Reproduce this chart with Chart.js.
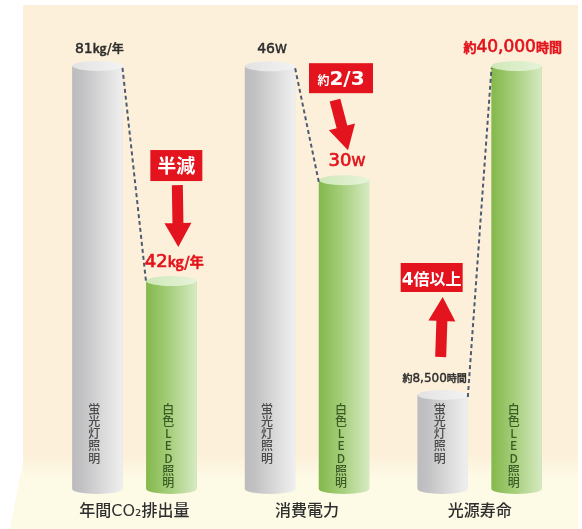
<!DOCTYPE html>
<html lang="ja">
<head>
<meta charset="UTF-8">
<title>蛍光灯照明と白色LED照明の比較</title>
<script src="https://cdn.jsdelivr.net/npm/chart.js@4.4.1/dist/chart.umd.min.js"></script>
<style>
  html, body { margin: 0; padding: 0; background: #fff; }
  #wrap { width: 582px; height: 529px; }
</style>
</head>
<body>
<div id="wrap"><canvas id="cmp"></canvas></div>
<script>
// data
const groups = ['年間CO₂排出量', '消費電力', '光源寿命'];
const fluorescent = [81, 46, 8500];
const led = [42, 30, 40000];
const units = ['kg/年', 'W', '時間'];
const prefixes = ['', '', '約'];
const badges = ['半減', '約2/3', '4倍以上'];
const lampNames = ['蛍光灯照明', '白色LED照明'];

// the picture is not drawn to scale, each group gets its own axis range
const axisMin = [4.3, -13.4, -500];
const axisMax = [85.7, 49.7, 42490];

const JP = '"Noto Sans CJK JP", "Noto Sans", sans-serif';
const NUM = '"DejaVu Sans", "Noto Sans CJK JP", sans-serif';
const RED = '#e3141d';

// badge / arrow placement, relative to the shorter bar of the group
const badgeStyle = [
  { dx: 5,   top: -131, w: 52, h: 31, tail: [6, -96],  tip: [7, -34] },
  { dx: -3,  top: -117, w: 64, h: 30, tail: [-9, -80], tip: [4, -30] },
  { dx: -11, top: -132, w: 62, h: 29, tail: [-2, -38], tip: [0, -98] }
];

const datasets = [];
groups.forEach((g, i) => {
  [fluorescent, led].forEach((series, k) => {
    datasets.push({
      label: lampNames[k],
      data: groups.map((_, j) => j === i ? series[i] : null),
      yAxisID: 'y' + i,
      base: axisMin[i],
      skipNull: true,
      backgroundColor: k === 0 ? '#d6d6d6' : '#a9d07f',
      borderWidth: 0,
      categoryPercentage: 0.857,
      barPercentage: 0.68,
      lamp: k,
      group: i
    });
  });
});

const scales = {
  x: {
    grid: { display: false, drawTicks: false },
    border: { display: false },
    ticks: { color: '#2e2e2e', padding: 13, font: { family: NUM, size: 16, weight: '500' } },
    afterFit: s => { s.height = 40; }
  }
};
groups.forEach((g, i) => {
  scales['y' + i] = { display: false, min: axisMin[i], max: axisMax[i] };
});

// parts: [text, size, family]
function drawParts(ctx, parts, x, y, align, color, weight, thicken) {
  ctx.fillStyle = color;
  ctx.strokeStyle = color;
  ctx.lineWidth = thicken || 0;
  ctx.textBaseline = 'alphabetic';
  ctx.textAlign = 'left';
  const fontOf = p => (weight || 500) + ' ' + p[1] + 'px ' + (p[2] || JP);
  let total = 0;
  const widths = parts.map(p => {
    ctx.font = fontOf(p);
    const w = ctx.measureText(p[0]).width;
    total += w;
    return w;
  });
  let cx = align === 'right' ? x - total : align === 'left' ? x : x - total / 2;
  parts.forEach((p, n) => {
    ctx.font = fontOf(p);
    ctx.fillText(p[0], cx, y);
    if (thicken) ctx.strokeText(p[0], cx, y);
    cx += widths[n];
  });
}

function drawArrow(ctx, x1, y1, x2, y2) {
  const shaftW = 11, headW = 27, headL = 24;
  const len = Math.hypot(x2 - x1, y2 - y1);
  const dx = (x2 - x1) / len, dy = (y2 - y1) / len;
  const nx = -dy, ny = dx;
  const bx = x2 - dx * headL, by = y2 - dy * headL;
  ctx.fillStyle = RED;
  ctx.beginPath();
  ctx.moveTo(x1 + nx * shaftW / 2, y1 + ny * shaftW / 2);
  ctx.lineTo(bx + nx * shaftW / 2, by + ny * shaftW / 2);
  ctx.lineTo(bx + nx * headW / 2, by + ny * headW / 2);
  ctx.lineTo(x2, y2);
  ctx.lineTo(bx - nx * headW / 2, by - ny * headW / 2);
  ctx.lineTo(bx - nx * shaftW / 2, by - ny * shaftW / 2);
  ctx.lineTo(x1 - nx * shaftW / 2, y1 - ny * shaftW / 2);
  ctx.closePath();
  ctx.fill();
}

function drawCylinder(ctx, el, lamp) {
  const left = el.x - el.width / 2, right = el.x + el.width / 2;
  const rx = el.width / 2, ry = 5;
  const body = ctx.createLinearGradient(left, 0, right, 0);
  const cap = ctx.createLinearGradient(left, 0, right, 0);
  if (lamp === 0) {
    body.addColorStop(0, '#bcbcbe');
    body.addColorStop(0.2, '#c2c2c4');
    body.addColorStop(0.75, '#e2e2e2');
    body.addColorStop(1, '#efefef');
    cap.addColorStop(0, '#e2e2e2');
    cap.addColorStop(1, '#f3f3f3');
  } else {
    body.addColorStop(0, '#84b84c');
    body.addColorStop(0.45, '#a5ce7a');
    body.addColorStop(1, '#d6eac2');
    cap.addColorStop(0, '#cfe8b8');
    cap.addColorStop(1, '#e6f3d9');
  }
  ctx.fillStyle = body;
  ctx.beginPath();
  ctx.moveTo(left, el.y);
  ctx.lineTo(left, el.base);
  ctx.ellipse(el.x, el.base, rx, ry, 0, Math.PI, 0, true);
  ctx.lineTo(right, el.y);
  ctx.closePath();
  ctx.fill();
  ctx.fillStyle = cap;
  ctx.beginPath();
  ctx.ellipse(el.x, el.y, rx, ry, 0, 0, Math.PI * 2);
  ctx.fill();
}

const backdrop = {
  id: 'backdrop',
  beforeDraw(chart) {
    const ctx = chart.ctx;
    ctx.save();
    ctx.fillStyle = '#fff';
    ctx.fillRect(0, 0, chart.width, chart.height);
    ctx.fillStyle = '#fdf0da';
    ctx.fillRect(23, 5, 555, chart.height - 5);
    const floor = ctx.createLinearGradient(0, 455, 0, 478);
    floor.addColorStop(0, 'rgba(253,250,230,0)');
    floor.addColorStop(1, 'rgba(253,250,230,1)');
    ctx.fillStyle = floor;
    ctx.beginPath();
    ctx.moveTo(24, 455);
    ctx.lineTo(578, 455);
    ctx.lineTo(578, chart.height);
    ctx.lineTo(10, chart.height);
    ctx.closePath();
    ctx.fill();
    ctx.restore();
  }
};

const cylinders = {
  id: 'cylinders',
  afterDatasetsDraw(chart) {
    const ctx = chart.ctx;
    ctx.save();
    const bars = [];
    chart.data.datasets.forEach((ds, d) => {
      const meta = chart.getDatasetMeta(d);
      const i = ds.group;
      const el = meta.data[i].getProps(['x', 'y', 'base', 'width'], true);
      bars[i] = bars[i] || [];
      bars[i][ds.lamp] = el;
      drawCylinder(ctx, el, ds.lamp);
    });

    bars.forEach((pair, i) => {
      const [fl, ld] = pair;

      // dashed guide from old lamp top to new lamp top
      ctx.strokeStyle = '#4e5c70';
      ctx.lineWidth = 2;
      ctx.setLineDash([4, 3]);
      ctx.beginPath();
      ctx.moveTo(fl.x + fl.width / 2, fl.y + 2);
      ctx.lineTo(ld.x - ld.width / 2, ld.y + 2);
      ctx.stroke();
      ctx.setLineDash([]);

      // value labels
      const small = i === 2;
      const flNum = fluorescent[i].toLocaleString('en-US');
      const ldNum = led[i].toLocaleString('en-US');
      const flParts = [[prefixes[i], small ? 10 : 12], [flNum, small ? 12 : 14, NUM], [units[i], small ? 10 : 12, units[i] === 'W' ? NUM : JP]];
      const ldParts = [[prefixes[i], 13], [ldNum, small ? 17 : 18, NUM], [units[i], small ? 13 : 14, units[i] === 'W' ? NUM : JP]];
      if (small) {
        drawParts(ctx, flParts, fl.x + fl.width / 2 - 1, fl.y - 13, 'right', '#2e2e2e', 500, 0.4);
      } else {
        drawParts(ctx, flParts, fl.x + 2, fl.y - 13, 'center', '#2e2e2e', 500, 0.5);
      }
      drawParts(ctx, ldParts, ld.x + (small ? -4 : 3), ld.y - 14, 'center', RED, 500, 0.7);

      // badge and arrow next to the shorter bar
      const s = badgeStyle[i];
      const ref = fl.y > ld.y ? fl : ld;
      const bx = ref.x + s.dx - s.w / 2, by = ref.y + s.top;
      ctx.fillStyle = RED;
      ctx.fillRect(bx, by, s.w, s.h);
      const txt = badges[i];
      let bparts;
      if (txt.startsWith('約')) bparts = [['約', 12], [txt.slice(1), 20, NUM]];
      else if (/^\d/.test(txt)) bparts = [[txt[0], 17, NUM], [txt.slice(1), 16]];
      else bparts = [[txt, 19]];
      drawParts(ctx, bparts, ref.x + s.dx, by + s.h / 2 + 7, 'center', '#fff', 700);
      drawArrow(ctx, ref.x + s.tail[0], ref.y + s.tail[1], ref.x + s.tip[0], ref.y + s.tip[1]);

      // lamp names written down the bars
      pair.forEach((el, k) => {
        ctx.fillStyle = k === 0 ? '#4a4a4a' : '#3b5a24';
        ctx.font = '500 12px ' + JP;
        ctx.textAlign = 'center';
        ctx.textBaseline = 'middle';
        Array.from(lampNames[k]).forEach((ch, n) => {
          ctx.fillText(ch, el.x - 3, el.base - 80 + n * 12.3);
        });
      });
    });
    ctx.restore();
  }
};

new Chart(document.getElementById('cmp'), {
  type: 'bar',
  data: { labels: groups, datasets: datasets },
  options: {
    responsive: true,
    maintainAspectRatio: false,
    animation: false,
    layout: { padding: { left: 48, right: 16, top: 40, bottom: 0 } },
    plugins: { legend: { display: false }, tooltip: { enabled: false } },
    scales: scales
  },
  plugins: [backdrop, cylinders]
});
</script>
</body>
</html>
